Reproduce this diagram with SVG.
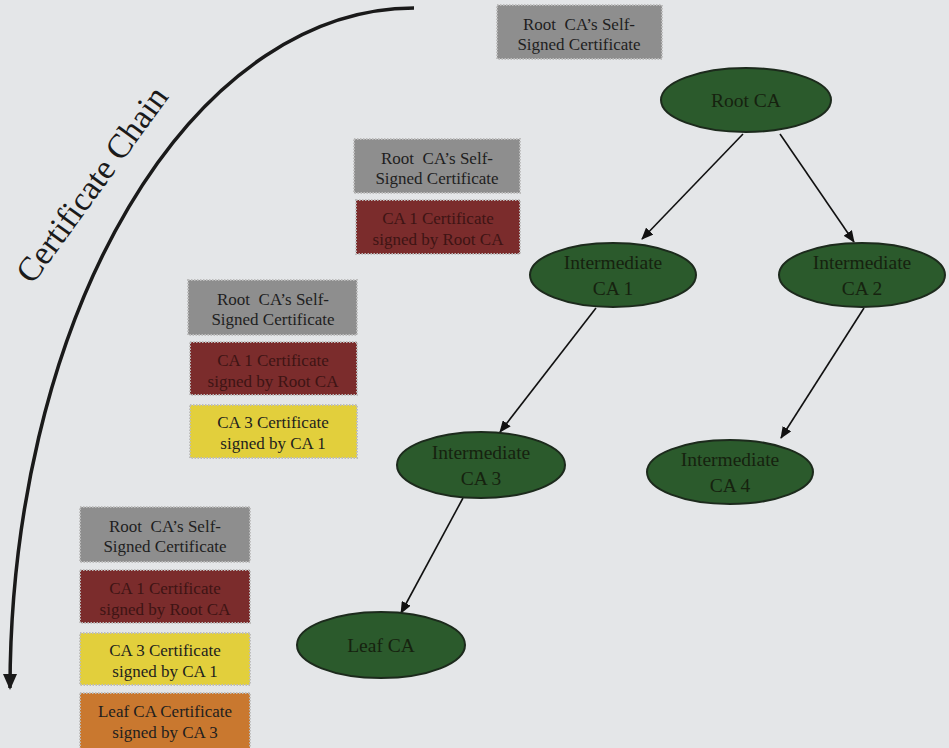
<svg xmlns="http://www.w3.org/2000/svg" width="949" height="748" viewBox="0 0 949 748">
  <defs>
    <marker id="arrow" markerWidth="12" markerHeight="10" refX="11" refY="5" orient="auto" markerUnits="userSpaceOnUse">
      <path d="M0,0 L12,5 L0,10 z" fill="#111"/>
    </marker>
    <marker id="chainArrow" markerWidth="16" markerHeight="14" refX="14" refY="7" orient="auto" markerUnits="userSpaceOnUse">
      <path d="M0,0 L16,7 L0,14 z" fill="#1a1a1a"/>
    </marker>
  </defs>
  <style>
    .cert { stroke: #bdbdbd; stroke-width: 2; stroke-dasharray: 1.5 1.5; }
    .root { fill: #8e8e8e; }
    .ca1 { fill: #7b2c2c; }
    .ca3 { fill: #e2cf3c; }
    .leaf { fill: #c9782f; }
    text { font-family: "Liberation Serif", Tinos, "Nimbus Roman", "Noto Serif", "DejaVu Serif", FreeSerif, serif; }
    .ct { font-size: 17px; text-anchor: middle; fill: #1e1e1e; }
    .ct-red { fill: #3e1414; }
    .node { fill: #2b5a2c; stroke: #1c2a1c; stroke-width: 2; }
    .nt { font-size: 19.5px; text-anchor: middle; fill: #16220f; }
    .edge { stroke: #111; stroke-width: 1.6; fill: none; marker-end: url(#arrow); }
  </style>

  <rect width="949" height="748" fill="#e4e6e8"/>

  <!-- chain direction arc and label -->
  <g id="chain">
    <path d="M414,8 A404,682 0 0 0 10,688" fill="none" stroke="#1a1a1a" stroke-width="3.5" marker-end="url(#chainArrow)"/>
    <text x="101" y="191" transform="rotate(-54 101 191)" font-size="34" text-anchor="middle" fill="#1a1a1a">Certificate Chain</text>
  </g>

  <!-- chain at Root CA -->
  <g id="chain-root">
    <rect class="cert root" x="497" y="5" width="165" height="54"/>
    <text class="ct" xml:space="preserve"><tspan x="579" y="30">Root  CA’s Self-</tspan><tspan x="579" y="50">Signed Certificate</tspan></text>
  </g>

  <!-- chain at CA 1 -->
  <g id="chain-ca1">
    <rect class="cert root" x="354" y="139" width="166" height="54"/>
    <text class="ct" xml:space="preserve"><tspan x="437" y="164">Root  CA’s Self-</tspan><tspan x="437" y="184">Signed Certificate</tspan></text>
    <rect class="cert ca1" x="356" y="200" width="164" height="54"/>
    <text class="ct ct-red"><tspan x="438" y="224">CA 1 Certificate</tspan><tspan x="438" y="245">signed by Root CA</tspan></text>
  </g>

  <!-- chain at CA 3 -->
  <g id="chain-ca3">
    <rect class="cert root" x="188" y="280" width="169" height="55"/>
    <text class="ct" xml:space="preserve"><tspan x="273" y="305">Root  CA’s Self-</tspan><tspan x="273" y="325">Signed Certificate</tspan></text>
    <rect class="cert ca1" x="190" y="342" width="167" height="53"/>
    <text class="ct ct-red"><tspan x="273" y="366">CA 1 Certificate</tspan><tspan x="273" y="387">signed by Root CA</tspan></text>
    <rect class="cert ca3" x="190" y="405" width="167" height="53"/>
    <text class="ct"><tspan x="273" y="428">CA 3 Certificate</tspan><tspan x="273" y="449">signed by CA 1</tspan></text>
  </g>

  <!-- chain at Leaf CA -->
  <g id="chain-leaf">
    <rect class="cert root" x="80" y="507" width="170" height="55"/>
    <text class="ct" xml:space="preserve"><tspan x="165" y="532">Root  CA’s Self-</tspan><tspan x="165" y="552">Signed Certificate</tspan></text>
    <rect class="cert ca1" x="80" y="570" width="170" height="53"/>
    <text class="ct ct-red"><tspan x="165" y="594">CA 1 Certificate</tspan><tspan x="165" y="615">signed by Root CA</tspan></text>
    <rect class="cert ca3" x="80" y="633" width="170" height="52"/>
    <text class="ct"><tspan x="165" y="656">CA 3 Certificate</tspan><tspan x="165" y="677">signed by CA 1</tspan></text>
    <rect class="cert leaf" x="80" y="693" width="170" height="56"/>
    <text class="ct"><tspan x="165" y="717">Leaf CA Certificate</tspan><tspan x="165" y="738">signed by CA 3</tspan></text>
  </g>

  <!-- hierarchy connectors -->
  <g id="connectors">
    <line class="edge" x1="743" y1="134" x2="642" y2="239"/>
    <line class="edge" x1="780" y1="134" x2="854" y2="242"/>
    <line class="edge" x1="596" y1="308" x2="500" y2="432"/>
    <line class="edge" x1="864" y1="308" x2="781" y2="438"/>
    <line class="edge" x1="463" y1="498" x2="401" y2="613"/>
  </g>

  <g id="root-ca">
    <ellipse class="node" cx="746" cy="100" rx="85" ry="32"/>
    <text class="nt" x="746" y="107">Root CA</text>
  </g>
  <g id="intermediate-ca1">
    <ellipse class="node" cx="613" cy="275" rx="83" ry="32"/>
    <text class="nt"><tspan x="613" y="269">Intermediate</tspan><tspan x="613" y="295">CA 1</tspan></text>
  </g>
  <g id="intermediate-ca2">
    <ellipse class="node" cx="862" cy="275" rx="83" ry="32"/>
    <text class="nt"><tspan x="862" y="269">Intermediate</tspan><tspan x="862" y="295">CA 2</tspan></text>
  </g>
  <g id="intermediate-ca3">
    <ellipse class="node" cx="481" cy="465" rx="84" ry="33"/>
    <text class="nt"><tspan x="481" y="459">Intermediate</tspan><tspan x="481" y="485">CA 3</tspan></text>
  </g>
  <g id="intermediate-ca4">
    <ellipse class="node" cx="730" cy="472" rx="83" ry="32"/>
    <text class="nt"><tspan x="730" y="466">Intermediate</tspan><tspan x="730" y="492">CA 4</tspan></text>
  </g>
  <g id="leaf-ca">
    <ellipse class="node" cx="381" cy="645" rx="84" ry="33"/>
    <text class="nt" x="381" y="652">Leaf CA</text>
  </g>
</svg>
